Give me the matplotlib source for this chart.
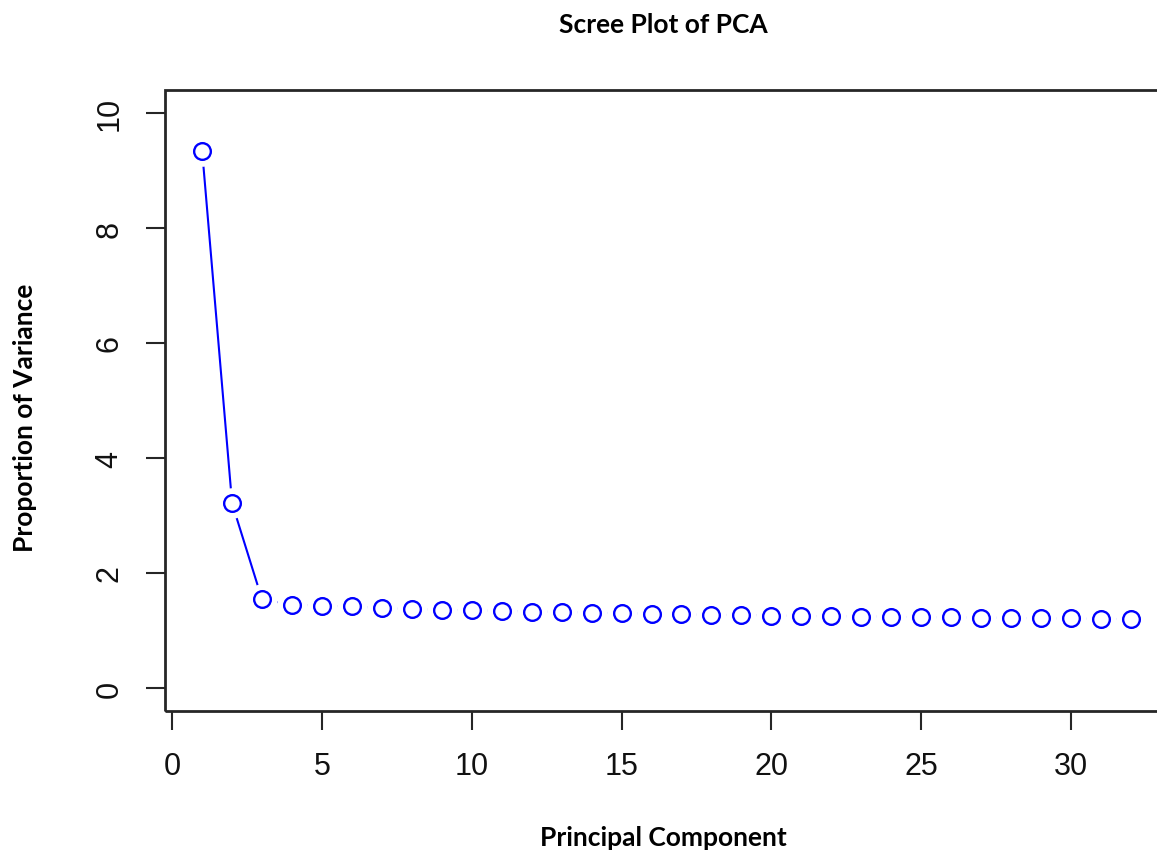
import numpy as np
import matplotlib.pyplot as plt
from matplotlib.patches import Rectangle

# variance explained by each principal component (%)
components = np.arange(1, 33)
variance = [9.34, 3.21, 1.54, 1.45, 1.43, 1.42, 1.39, 1.37, 1.36, 1.35,
            1.34, 1.33, 1.32, 1.31, 1.30, 1.29, 1.28, 1.27, 1.27, 1.26,
            1.25, 1.25, 1.24, 1.24, 1.23, 1.23, 1.22, 1.22, 1.21, 1.21,
            1.20, 1.20]
x_ticks = [0, 5, 10, 15, 20, 25, 30]
y_ticks = [0, 2, 4, 6, 8, 10]

axis_col = "#262626"

fig = plt.figure(figsize=(11.57, 8.54), dpi=100)
ax = fig.add_axes([165 / 1157, 142 / 854, 1003 / 1157, 621 / 854])

# R-style type="b": line with gaps around the points
ax.plot(components, variance, color="blue", lw=1.5, zorder=2)
ax.plot(components, variance, "o", ms=22, mfc="white", mec="none", zorder=3)
ax.plot(components, variance, "o", ms=12, mfc="none", mec="blue", mew=1.7, zorder=4)

ax.set_xlim(-0.24, 33.24)
ax.set_ylim(-0.4, 10.4)
ax.set_xticks(x_ticks)
ax.set_yticks(y_ticks)

tick_font = {"family": "Liberation Sans", "size": 22}
ax.set_xticklabels([str(t) for t in x_ticks], fontdict=tick_font, color="#111111")
ax.set_yticklabels([str(t) for t in y_ticks], fontdict=tick_font, color="#111111",
                   rotation=90, va="center")
ax.tick_params(axis="both", direction="out", length=14, width=1.5,
               color=axis_col, pad=15)

for s in ax.spines.values():
    s.set_visible(False)
ax.add_patch(Rectangle((0, 0), 1, 1, transform=ax.transAxes, fill=False,
                       ec=axis_col, lw=2, clip_on=False, zorder=5))

label_font = {"family": "Lato", "weight": "bold", "size": 19}
fig.text(0.573, 1 - 25 / 854, "Scree Plot of PCA", ha="center", va="center", fontdict=label_font)
fig.text(0.573, 1 - 838 / 854, "Principal Component", ha="center", va="center", fontdict=label_font)
fig.text(25 / 1157, 1 - 418 / 854, "Proportion of Variance", ha="center", va="center",
         rotation=90, fontdict=label_font)

plt.savefig("out.png", dpi=100)
plt.close()
